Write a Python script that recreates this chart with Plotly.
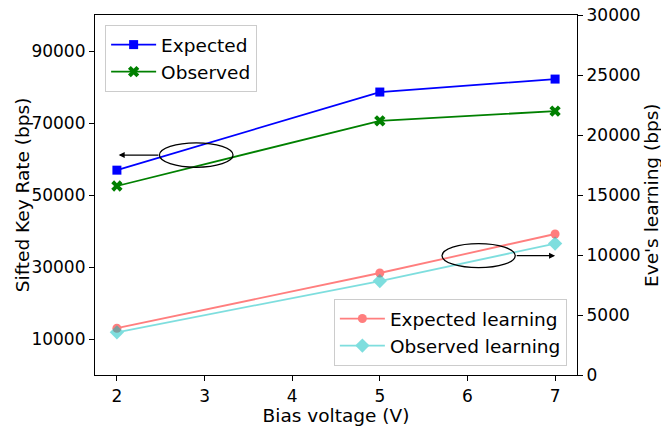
import plotly.graph_objects as go

bias_v = [2, 5, 7]
expected = [56900, 78600, 82200]
observed = [52500, 70600, 73300]
expected_learning = [3900, 8500, 11750]
observed_learning = [3560, 7830, 10950]

left_ticks = [10000, 30000, 50000, 70000, 90000]
right_ticks = [0, 5000, 10000, 15000, 20000, 25000, 30000]
x_ticks = [2, 3, 4, 5, 6, 7]

FONT = "DejaVu Sans"

fig = go.Figure()
fig.add_trace(go.Scatter(x=bias_v, y=expected, name="Expected", mode="lines+markers",
                         line=dict(color="#0000ff", width=1.8),
                         marker=dict(symbol="square", size=9, color="#0000ff"),
                         legend="legend"))
fig.add_trace(go.Scatter(x=bias_v, y=observed, name="Observed", mode="lines+markers",
                         line=dict(color="#008000", width=1.8),
                         marker=dict(symbol="x", size=10, color="#008000"),
                         legend="legend"))
fig.add_trace(go.Scatter(x=bias_v, y=expected_learning, name="Expected learning",
                         mode="lines+markers", yaxis="y2", opacity=0.5,
                         line=dict(color="#ff0000", width=1.8),
                         marker=dict(symbol="circle", size=9, color="#ff0000"),
                         legend="legend2"))
fig.add_trace(go.Scatter(x=bias_v, y=observed_learning, name="Observed learning",
                         mode="lines+markers", yaxis="y2", opacity=0.5,
                         line=dict(color="#00bfbf", width=1.8),
                         marker=dict(symbol="diamond", size=11, color="#00bfbf"),
                         legend="legend2"))

# ellipses
fig.add_shape(type="circle", xref="x", yref="y", x0=2.485, x1=3.325, y0=57700, y1=64500,
              line=dict(color="black", width=1.3))
fig.add_shape(type="circle", xref="x", yref="y", x0=5.71, x1=6.545, y0=29800, y1=36500,
              line=dict(color="black", width=1.3))
# arrows
fig.add_annotation(x=2.02, y=61100, ax=2.49, ay=61100, xref="x", yref="y", axref="x", ayref="y",
                   text="", showarrow=True, arrowhead=2, arrowsize=1, arrowwidth=1.2, arrowcolor="black")
fig.add_annotation(x=7.0, y=33150, ax=6.545, ay=33150, xref="x", yref="y", axref="x", ayref="y",
                   text="", showarrow=True, arrowhead=2, arrowsize=1, arrowwidth=1.2, arrowcolor="black")
# axis titles (y)
fig.add_annotation(text="Sifted Key Rate (bps)", xref="paper", yref="paper", x=-0.151, y=0.5,
                   xanchor="center", yanchor="middle", textangle=-90, showarrow=False,
                   font=dict(family=FONT, size=18.5, color="black"))
fig.add_annotation(text="Eve's learning (bps)", xref="paper", yref="paper", x=1.1535, y=0.5,
                   xanchor="center", yanchor="middle", textangle=-90, showarrow=False,
                   font=dict(family=FONT, size=18.5, color="black"))

axis_common = dict(showgrid=False, zeroline=False, ticks="outside", ticklen=5, tickcolor="black",
                   tickfont=dict(family=FONT, size=17, color="black"), linecolor="black", linewidth=1.2,
                   showline=True, automargin=False, ticklabeloverflow="allow")

fig.update_layout(
    width=661, height=426,
    margin=dict(l=95, r=84, t=15, b=51),
    paper_bgcolor="white", plot_bgcolor="white",
    font=dict(family=FONT, color="black"),
    xaxis=dict(range=[1.75, 7.25], tickvals=x_ticks, mirror=True,
               title=dict(text="Bias voltage (V)", font=dict(family=FONT, size=18.5), standoff=6),
               **axis_common),
    yaxis=dict(range=[0, 100000], tickvals=left_ticks, tickformat="d", **axis_common),
    yaxis2=dict(range=[0, 30000], tickvals=right_ticks, tickformat="d", overlaying="y", side="right",
                **axis_common),
    legend=dict(x=0.021, y=0.972, xanchor="left", yanchor="top", bgcolor="white",
                bordercolor="#cccccc", borderwidth=1, font=dict(family=FONT, size=18.5),
                itemwidth=45, tracegroupgap=0),
    legend2=dict(x=0.979, y=0.025, xanchor="right", yanchor="bottom", bgcolor="white",
                 bordercolor="#cccccc", borderwidth=1, font=dict(family=FONT, size=18.5),
                 itemwidth=45, tracegroupgap=0),
    showlegend=True,
)

# remove the browser's default 8px body margin so the 661x426 figure fills the window
fig.write_html("out.html", config={"displayModeBar": False},
               post_script="document.body.style.margin='0';document.body.style.overflow='hidden';")
